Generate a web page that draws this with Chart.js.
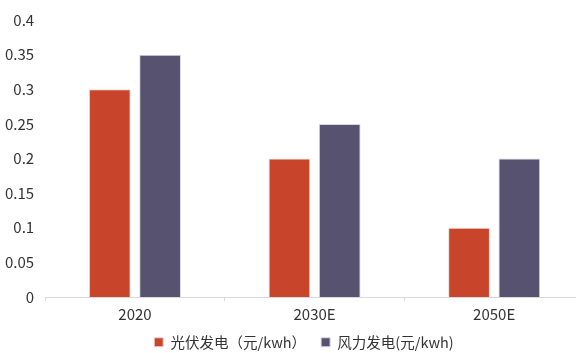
<!DOCTYPE html>
<html>
<head>
<meta charset="utf-8">
<script src="https://cdn.jsdelivr.net/npm/chart.js@4/dist/chart.umd.min.js"></script>
<style>
    html, body { margin: 0; padding: 0; background: #fff; overflow: hidden; }
    #wrap { width: 584px; height: 353px; }
</style>
</head>
<body>
<div id="wrap"><canvas id="costChart" width="584" height="353"></canvas></div>
<script>
// Generation cost per kWh, solar vs wind
let categories = ['2020', '2030E', '2050E'];
let solarCost = [0.3, 0.2, 0.1];
let windCost = [0.35, 0.25, 0.2];
let yTicks = [0, 0.05, 0.1, 0.15, 0.2, 0.25, 0.3, 0.35, 0.4];

const fontFamily = '"Noto Sans CJK SC", "Noto Sans", sans-serif';
const textColor = '#333333';

// short legend box; the row is then nudged up and right.
// only top/left/right move so the legend clip still reaches the canvas bottom
const legendFit = {
    id: 'legendFit',
    afterInit(chart) {
        const legend = chart.legend;
        if (!legend) return;
        const origFit = legend.fit;
        legend.fit = function () {
            origFit.call(this);
            this.height = 26;
        };
    },
    afterLayout(chart) {
        const legend = chart.legend;
        if (!legend) return;
        legend.top -= 7;
        legend.left += 15;
        legend.right += 15;
    }
};

const ctx = document.getElementById('costChart').getContext('2d');
const costChart = new Chart(ctx, {
    type: 'bar',
    data: {
        labels: categories,
        datasets: [{
            label: '光伏发电（元/kwh）',
            data: solarCost,
            backgroundColor: '#C8442A',
            borderColor: '#E8D6D2',
            borderWidth: 1
        }, {
            label: '风力发电(元/kwh)',
            data: windCost,
            backgroundColor: '#575270',
            borderColor: '#D8D6E2',
            borderWidth: 1
        }]
    },
    options: {
        responsive: false,
        animation: false,
        categoryPercentage: 0.56,
        barPercentage: 0.83,
        layout: {
            padding: { top: -2, left: -6, right: 0, bottom: 0 }
        },
        plugins: {
            tooltip: { enabled: false },
            legend: {
                position: 'bottom',
                labels: {
                    boxWidth: 9,
                    boxHeight: 9,
                    padding: 15,
                    color: textColor,
                    font: { family: fontFamily, size: 14.5 }
                }
            }
        },
        scales: {
            x: {
                grid: {
                    offset: true,
                    drawOnChartArea: false,
                    tickLength: 4,
                    color: '#D9D9D9'
                },
                border: { color: '#D9D9D9', width: 1 },
                ticks: {
                    color: textColor,
                    padding: 4,
                    font: { family: fontFamily, size: 15 }
                }
            },
            y: {
                min: 0,
                max: 0.4,
                afterBuildTicks: axis => {
                    axis.ticks = yTicks.map(v => ({ value: v }));
                },
                grid: { display: false, drawTicks: false },
                border: { display: false },
                ticks: {
                    color: textColor,
                    padding: 11,
                    font: { family: fontFamily, size: 15 },
                    callback: v => String(v)
                }
            }
        }
    },
    plugins: [legendFit]
});
</script>
</body>
</html>
